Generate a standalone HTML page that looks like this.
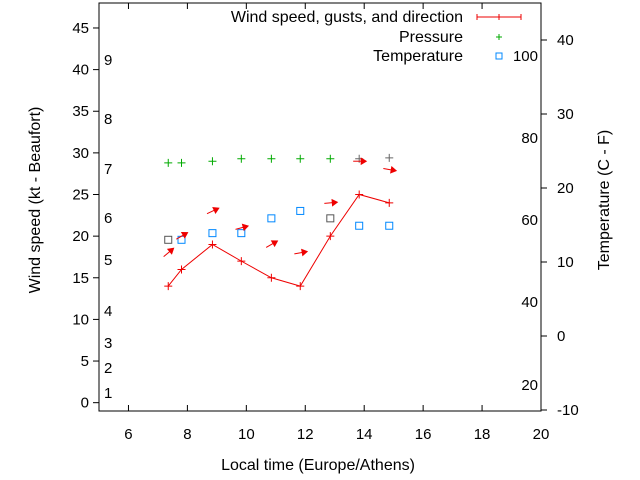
<!DOCTYPE html>
<html><head><meta charset="utf-8"><style>
body{margin:0;background:#fff}
svg{display:block;font-family:"Liberation Sans",sans-serif;font-size:15px}
.big{font-size:16px}
</style></head><body>
<svg id="chart" width="640" height="480">
<g id="axes"></g><g id="marks"></g>
<text class="big" x="318" y="470" text-anchor="middle">Local time (Europe/Athens)</text>
<text class="big" transform="translate(40,200) rotate(-90)" text-anchor="middle">Wind speed (kt - Beaufort)</text>
<text class="big" transform="translate(609,200) rotate(-90)" text-anchor="middle">Temperature (C - F)</text>
<g>
<text class="big" x="463" y="22" text-anchor="end">Wind speed, gusts, and direction</text>
<path d="M477 17H521M477 14V20M521 14V20M499 14V20" stroke="#e00"/>
<text class="big" x="463" y="42" text-anchor="end">Pressure</text>
<path d="M496 37H502M499 34V40" stroke="#0a0"/>
<text class="big" x="463" y="61" text-anchor="end">Temperature</text>
<rect x="496" y="53" width="6" height="6" fill="none" stroke="#08f"/>
</g>
</svg>
<script>
const times=[7.35,7.8,8.85,9.83,10.85,11.83,12.85,13.83,14.85];
const speeds=[14,16,19,17,15,14,20,25,24];
const gusts=[18,20,23,21,19,18,24,29,28];
const dirAngles=[40,30,25,15,30,10,5,0,-10];
const pressure=[28.8,28.8,29.0,29.3,29.3,29.3,29.3,29.3,29.4];
const tempC=[13.0,13.0,13.9,13.9,15.9,16.9,15.9,14.9,14.9];
const xTicks=[6,8,10,12,14,16,18,20];
const yTicks=[0,5,10,15,20,25,30,35,40,45];
const cTicks=[-10,0,10,20,30,40];
const beaufort=[[1,393],[2,368],[3,343],[4,311],[5,260],[6,218],[7,169],[8,119],[9,60]];
const fahr=[[100,56],[80,138],[60,220],[40,302],[20,385]];
const L=99,R=541,T=3,B=411;
const X=t=>L+(t-5)*(R-L)/15;
const Y=v=>B-(v+1)*(B-T)/49;
const YC=c=>410-(c+10)*7.4;
const NS='http://www.w3.org/2000/svg';
const ax=document.getElementById('axes'),mk=document.getElementById('marks');
function el(p,tag,at,txt){const e=document.createElementNS(NS,tag);for(const k in at)e.setAttribute(k,at[k]);if(txt!==undefined)e.textContent=txt;p.appendChild(e);return e;}
const frame=el(ax,'rect',{x:L,y:T,width:R-L,height:B-T,fill:'none',stroke:'#000'});


xTicks.forEach(t=>{const x=X(t);el(ax,'path',{d:`M${x} ${B}v-6M${x} ${T}v6`,stroke:'#000'});
const tx=el(ax,'text',{x:x,y:B+28,'text-anchor':'middle'},t);

});
yTicks.forEach(v=>{const y=Y(v);el(ax,'path',{d:`M${L} ${y}h-6`,stroke:'#000'});
const tx=el(ax,'text',{x:L-10,y:y+5,'text-anchor':'end'},v);

});
cTicks.forEach(c=>{const y=YC(c);el(ax,'path',{d:`M${R} ${y}h6`,stroke:'#000'});
const tx=el(ax,'text',{x:R+16,y:y+5},c);

});
beaufort.forEach(b=>{const tx=el(ax,'text',{x:104,y:b[1]+5},b[0]);

});
fahr.forEach(f=>{const tx=el(ax,'text',{x:538,y:f[1]+5,'text-anchor':'end'},f[0]);

});
const line=el(mk,'polyline',{points:times.map((t,i)=>X(t)+','+Y(speeds[i])).join(' '),fill:'none',stroke:'#e00'});


times.forEach((t,i)=>{const x=X(t),y=Y(speeds[i]);
const p=el(mk,'path',{d:`M${x-4} ${y}h8M${x} ${y-4}v8`,stroke:'#e00'});


const py=Y(pressure[i]);
const g=el(mk,'path',{d:`M${x-4} ${py}h8M${x} ${py-4}v8`,stroke:i>=7?'#666':'#0a0'});


const cy=YC(tempC[i]);
const s=el(mk,'rect',{x:x-3.5,y:cy-3.5,width:7,height:7,fill:'none',stroke:(i==0||i==6)?'#555':'#08f'});


const gy=Y(gusts[i]),a=dirAngles[i];
const ar=el(mk,'g',{transform:`translate(${x},${gy}) rotate(${-a})`});
el(ar,'path',{d:'M-6 0H4',stroke:'#e00','stroke-width':1});
el(ar,'path',{d:'M2 -3L7 0L2 3Z',fill:'#e00',stroke:'#e00'});

});
</script>
</body></html>
